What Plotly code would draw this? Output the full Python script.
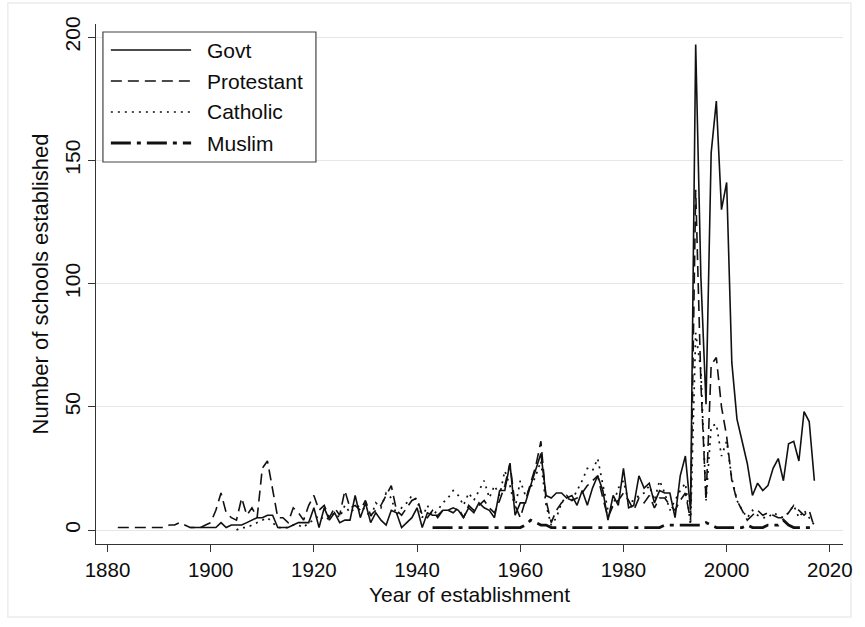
import plotly.graph_objects as go

# Schools established per year, by proprietor
govt_years = list(range(1896, 2018))
govt = [
    1, 1, 1, 1, 1, 1,
    3, 1, 2, 2, 2, 3, 4, 5, 5, 6,
    6, 1, 1, 1, 2, 3, 3, 3, 9, 1,
    9, 4, 7, 3, 4, 4, 14, 5, 11, 3,
    7, 4, 2, 8, 7, 1, 3, 5, 9, 1,
    7, 6, 6, 8, 8, 9, 8, 5, 9, 7,
    11, 9, 8, 5, 16, 16, 27, 6, 11, 11,
    18, 25, 31, 14, 13, 15, 15, 13, 14, 10,
    16, 10, 17, 22, 16, 4, 14, 10, 25, 9,
    10, 22, 17, 19, 11, 16, 15, 15, 5, 22,
    30, 8, 197, 103, 51, 153, 174, 130, 141, 68,
    45, 36, 27, 14, 19, 16, 18, 25, 29, 20,
    35, 36, 28, 48, 44, 20,
]

protestant_years = list(range(1882, 2018))
protestant = [
    1, 1, 1, 1, 1, 1, 1, 1, 1, 1,
    2, 2, 3, 2, 1, 1, 1, 2, 3, 8,
    15, 7, 5, 4, 13, 6, 9, 5, 25, 28,
    16, 5, 5, 3, 9, 7, 4, 10, 14, 8,
    10, 5, 9, 6, 16, 9, 10, 8, 12, 6,
    8, 10, 14, 18, 8, 6, 9, 12, 13, 6,
    5, 8, 5, 8, 8, 7, 9, 5, 10, 8,
    10, 12, 9, 7, 12, 18, 27, 10, 5, 12,
    19, 26, 36, 12, 3, 8, 11, 13, 12, 13,
    15, 18, 20, 22, 13, 5, 10, 12, 15, 12,
    8, 13, 11, 14, 9, 13, 13, 10, 8, 12,
    15, 4, 138, 60, 12, 67, 70, 50, 38, 20,
    12, 8, 4, 6, 8, 6, 7, 6, 5, 5,
    7, 10, 8, 6, 8, 1,
]

catholic_years = list(range(1905, 2018))
catholic = [
    0, 1, 1, 2, 3, 4, 5, 3, 1, 1,
    1, 2, 2, 1, 3, 4, 6, 4, 5, 7,
    5, 10, 7, 9, 10, 8, 5, 11, 9, 15,
    13, 6, 9, 11, 14, 12, 5, 10, 6, 8,
    11, 13, 16, 14, 10, 15, 12, 16, 20, 13,
    18, 14, 24, 18, 9, 20, 14, 17, 22, 28,
    10, 2, 5, 11, 14, 12, 16, 20, 25, 24,
    29, 18, 8, 10, 17, 20, 11, 12, 14, 15,
    18, 12, 20, 15, 8, 12, 16, 19, 2, 80,
    65, 12, 42, 43, 30, 36, 21, 12, 8, 5,
    8, 6, 5, 5, 7, 6, 5, 7, 10, 5,
    8, 5, 2,
]

muslim_years = list(range(1943, 2018))
muslim = [
    1, 1, 1, 1, 1, 1, 1, 1, 1, 1,
    1, 1, 1, 1, 1, 1, 1, 1, 2, 4,
    3, 2, 2, 1, 1, 1, 1, 1, 1, 1,
    1, 1, 1, 1, 1, 1, 1, 1, 1, 1,
    1, 1, 1, 1, 1, 2, 2, 2, 2, 2,
    2, 2, 2, 3, 2, 1, 1, 1, 1, 1,
    1, 2, 1, 1, 1, 2, 2, 2, 4, 2,
    1, 1, 1, 1, 1,
]

y_ticks = [0, 50, 100, 150, 200]
x_ticks = [1880, 1900, 1920, 1940, 1960, 1980, 2000, 2020]

FONT = "Liberation Sans, Arial, Helvetica, sans-serif"
INK = "#111111"
TEXT = "#0d0d0d"

series = [
    ("Govt", govt_years, govt, dict(color=INK, width=1.6, dash="solid")),
    ("Protestant", protestant_years, protestant, dict(color=INK, width=1.6, dash="11px,6px")),
    ("Catholic", catholic_years, catholic, dict(color=INK, width=1.7, dash="2px,5px")),
    ("Muslim", muslim_years, muslim, dict(color=INK, width=2.8, dash="20px,6px,4px,6px")),
]

fig = go.Figure()
for name, xs, ys, line in series:
    fig.add_trace(go.Scatter(x=xs, y=ys, mode="lines", name=name, line=line,
                             showlegend=False))

# Figure geometry (pixels)
W, H = 865, 627
L, R, T, B = 96, 15, 24, 83
pw, ph = W - L - R, H - T - B


def px(x):
    return (x - L) / pw


def py(y):
    return (H - B - y) / ph


shapes = []
annotations = []

# Framed legend in the upper-left corner of the plot region
shapes.append(dict(type="rect", xref="paper", yref="paper",
                   x0=px(103), x1=px(318), y0=py(162), y1=py(32),
                   line=dict(color="#444444", width=1.2), fillcolor="white",
                   layer="above"))
row_y = [50, 81, 112, 143]
for (name, _, _, line), yy in zip(series, row_y):
    shapes.append(dict(type="line", xref="paper", yref="paper",
                       x0=px(111), x1=px(192), y0=py(yy), y1=py(yy),
                       line=line, layer="above"))
    annotations.append(dict(text=name, xref="paper", yref="paper",
                            x=px(206), y=py(yy), xanchor="left", yanchor="middle",
                            showarrow=False,
                            font=dict(family=FONT, size=21, color=TEXT)))

# Faint outer frame around the whole graph
shapes.append(dict(type="rect", xref="paper", yref="paper",
                   x0=px(7), x1=px(858), y0=py(617), y1=py(3),
                   line=dict(color="#ececec", width=1.5), layer="below"))

fig.update_layout(
    width=W, height=H,
    margin=dict(l=L, r=R, t=T, b=B),
    paper_bgcolor="white", plot_bgcolor="white",
    font=dict(family=FONT, size=20, color=TEXT),
    shapes=shapes, annotations=annotations,
    showlegend=False,
)

fig.update_xaxes(
    range=[1877.77, 2022.55],
    tickvals=x_ticks, ticktext=[str(v) for v in x_ticks],
    ticks="outside", ticklen=7, tickwidth=1.2, tickcolor="#333333",
    showline=True, linecolor="#333333", linewidth=1.2,
    showgrid=False, zeroline=False,
    tickfont=dict(size=20.5),
    title=dict(text="Year of establishment", font=dict(size=21), standoff=7),
)
fig.update_yaxes(
    range=[-5.68, 205.3],
    tickvals=y_ticks, ticktext=[str(v) for v in y_ticks],
    tickangle=-90,
    ticks="outside", ticklen=7, tickwidth=1.2, tickcolor="#333333",
    showline=True, linecolor="#333333", linewidth=1.2,
    showgrid=True, gridcolor="#e6e6e6", gridwidth=1.4,
    zeroline=False,
    tickfont=dict(size=21),
    title=dict(text="Number of schools established", font=dict(size=22), standoff=5),
)

fig.write_html("out.html")
